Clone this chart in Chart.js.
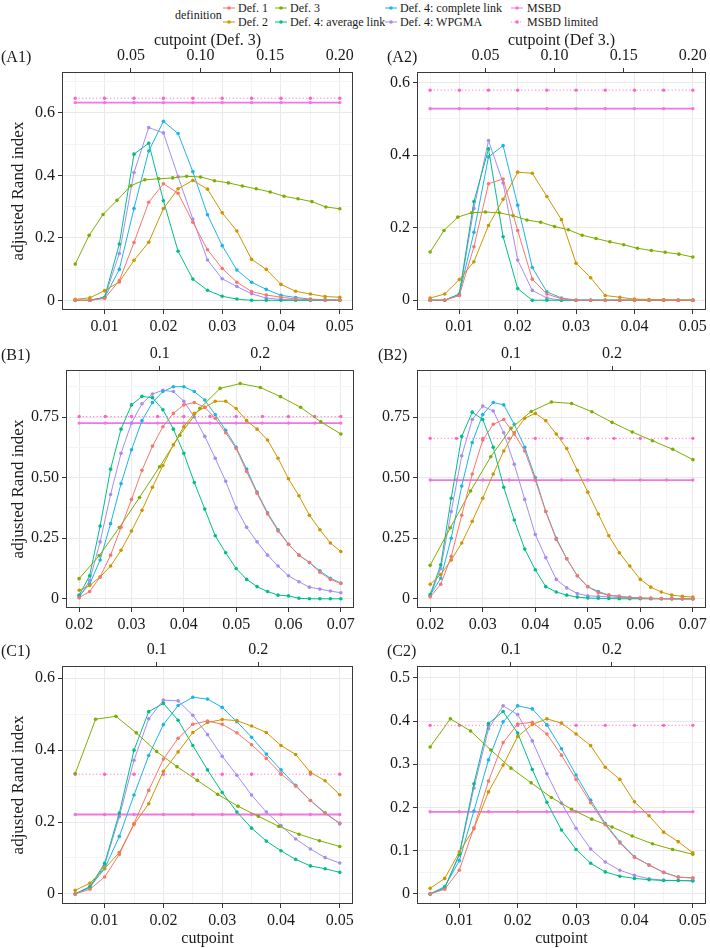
<!DOCTYPE html>
<html lang="en">
<head>
<meta charset="UTF-8">
<title>Adjusted Rand index by cutpoint</title>
<style>
  body { margin: 0; width: 710px; height: 948px; position: relative; background: #fff;
         font-family: "Liberation Serif", serif; color: #1a1a1a; overflow: hidden; }
  canvas { position: absolute; }
  .tag { position: absolute; font-size: 16px; line-height: 16px; }
  .leg { position: absolute; font-size: 12px; line-height: 14px; white-space: nowrap; }
  .key { position: absolute; }
</style>
<script src="https://cdn.jsdelivr.net/npm/chart.js"></script>
</head>
<body>
<script>
// x positions
const xA = [0.005, 0.0075, 0.01, 0.0125, 0.015, 0.0175, 0.02, 0.0225, 0.025, 0.0275, 0.03, 0.0325, 0.035, 0.0375, 0.04, 0.0425, 0.045, 0.0475, 0.05];
const xA3 = [0.01, 0.02, 0.03, 0.04, 0.05, 0.06, 0.07, 0.08, 0.09, 0.10, 0.11, 0.12, 0.13, 0.14, 0.15, 0.16, 0.17, 0.18, 0.19, 0.20];
const xAm = [0.005, 0.01, 0.015, 0.02, 0.025, 0.03, 0.035, 0.04, 0.045, 0.05];
const xB = [0.02, 0.022, 0.024, 0.026, 0.028, 0.03, 0.032, 0.034, 0.036, 0.038, 0.04, 0.042, 0.044, 0.046, 0.048, 0.05, 0.052, 0.054, 0.056, 0.058, 0.06, 0.062, 0.064, 0.066, 0.068, 0.07];
const xB3 = [0.02, 0.04, 0.06, 0.08, 0.10, 0.12, 0.14, 0.16, 0.18, 0.20, 0.22, 0.24, 0.26, 0.28];
const xBm = [0.02, 0.025, 0.03, 0.035, 0.04, 0.045, 0.05, 0.055, 0.06, 0.065, 0.07];
const xC = xA, xC3 = xB3, xCm = xAm;

// panel A1
const a1Def1 = [0, 0, 0.006, 0.063, 0.185, 0.314, 0.373, 0.343, 0.25, 0.162, 0.102, 0.058, 0.028, 0.017, 0.01, 0.004, 0.002, 0.001, 0];
const a1Def2 = [0.003, 0.008, 0.031, 0.059, 0.128, 0.186, 0.294, 0.357, 0.384, 0.356, 0.28, 0.222, 0.131, 0.099, 0.051, 0.029, 0.02, 0.012, 0.01];
const a1Def3 = [0.116, 0.208, 0.275, 0.32, 0.367, 0.386, 0.389, 0.392, 0.397, 0.395, 0.383, 0.376, 0.366, 0.357, 0.347, 0.333, 0.325, 0.316, 0.299, 0.293];
const a1Avg = [0, 0, 0.01, 0.18, 0.468, 0.503, 0.319, 0.157, 0.068, 0.032, 0.013, 0.004, 0, 0, 0, 0, 0, 0, 0];
const a1Complete = [0, 0, 0.009, 0.099, 0.294, 0.478, 0.573, 0.534, 0.412, 0.274, 0.175, 0.097, 0.058, 0.035, 0.016, 0.009, 0.004, 0.002, 0.001];
const a1Wpgma = [0, 0, 0.009, 0.15, 0.409, 0.553, 0.536, 0.396, 0.26, 0.129, 0.069, 0.044, 0.021, 0.007, 0.003, 0.001, 0, 0, 0];
const a1Msbd = [0.633, 0.633, 0.633, 0.633, 0.633, 0.633, 0.633, 0.633, 0.633, 0.633];
const a1MsbdLim = [0.647, 0.647, 0.647, 0.647, 0.647, 0.647, 0.647, 0.647, 0.647, 0.647];

// panel A2
const a2Def1 = [0, 0, 0.013, 0.147, 0.321, 0.334, 0.192, 0.058, 0.017, 0.004, 0, 0, 0, 0, 0, 0, 0, 0, 0];
const a2Def2 = [0.006, 0.017, 0.057, 0.106, 0.206, 0.278, 0.353, 0.35, 0.286, 0.222, 0.102, 0.062, 0.013, 0.008, 0.003, 0.002, 0.001, 0, 0];
const a2Def3 = [0.133, 0.192, 0.229, 0.241, 0.243, 0.241, 0.233, 0.221, 0.215, 0.203, 0.194, 0.179, 0.17, 0.161, 0.153, 0.143, 0.137, 0.132, 0.127, 0.119];
const a2Avg = [0, 0, 0.017, 0.272, 0.417, 0.175, 0.032, 0, 0, 0, 0, 0, 0, 0, 0, 0, 0, 0, 0];
const a2Complete = [0, 0, 0.016, 0.187, 0.395, 0.426, 0.262, 0.09, 0.023, 0.006, 0, 0, 0, 0, 0, 0, 0, 0, 0];
const a2Wpgma = [0, 0, 0.014, 0.253, 0.44, 0.323, 0.111, 0.027, 0.006, 0, 0, 0, 0, 0, 0, 0, 0, 0, 0];
const a2Msbd = [0.528, 0.528, 0.528, 0.528, 0.528, 0.528, 0.528, 0.528, 0.528, 0.528];
const a2MsbdLim = [0.579, 0.579, 0.579, 0.579, 0.579, 0.579, 0.579, 0.579, 0.579, 0.579];

// panel B1
const b1Def1 = [0.005, 0.03, 0.09, 0.18, 0.295, 0.41, 0.53, 0.63, 0.71, 0.765, 0.80, 0.81, 0.79, 0.745, 0.685, 0.62, 0.525, 0.435, 0.35, 0.28, 0.225, 0.18, 0.15, 0.11, 0.08, 0.063];
const b1Def2 = [0.035, 0.055, 0.09, 0.135, 0.2, 0.28, 0.365, 0.46, 0.55, 0.635, 0.71, 0.765, 0.79, 0.815, 0.815, 0.785, 0.735, 0.70, 0.655, 0.58, 0.495, 0.425, 0.345, 0.285, 0.23, 0.195];
const b1Def3 = [0.083, 0.178, 0.294, 0.418, 0.545, 0.675, 0.786, 0.868, 0.888, 0.872, 0.834, 0.79, 0.73, 0.68];
const b1Avg = [0.015, 0.095, 0.30, 0.535, 0.70, 0.80, 0.835, 0.83, 0.78, 0.70, 0.60, 0.48, 0.37, 0.26, 0.19, 0.125, 0.08, 0.05, 0.03, 0.015, 0.012, 0.002, 0, 0, 0, 0];
const b1Complete = [0.012, 0.06, 0.16, 0.31, 0.475, 0.615, 0.735, 0.81, 0.855, 0.875, 0.875, 0.855, 0.82, 0.76, 0.695, 0.625, 0.535, 0.44, 0.355, 0.285, 0.225, 0.18, 0.15, 0.115, 0.085, 0.065];
const b1Wpgma = [0.005, 0.075, 0.235, 0.43, 0.60, 0.725, 0.805, 0.845, 0.86, 0.855, 0.815, 0.75, 0.67, 0.58, 0.485, 0.375, 0.295, 0.235, 0.18, 0.135, 0.095, 0.07, 0.048, 0.04, 0.032, 0.025];
const b1Msbd = [0.725, 0.725, 0.725, 0.725, 0.725, 0.725, 0.725, 0.725, 0.725, 0.725, 0.725];
const b1MsbdLim = [0.752, 0.752, 0.752, 0.752, 0.752, 0.752, 0.752, 0.752, 0.752, 0.752, 0.752];

// panel B2
const b2Def1 = [0.008, 0.06, 0.175, 0.345, 0.515, 0.655, 0.72, 0.74, 0.68, 0.61, 0.49, 0.36, 0.245, 0.165, 0.095, 0.05, 0.025, 0.015, 0.01, 0.005, 0.003, 0.002, 0.001, 0, 0, 0];
const b2Def2 = [0.06, 0.10, 0.16, 0.23, 0.32, 0.415, 0.515, 0.61, 0.685, 0.745, 0.765, 0.735, 0.68, 0.62, 0.53, 0.44, 0.35, 0.26, 0.19, 0.135, 0.08, 0.048, 0.028, 0.015, 0.01, 0.007];
const b2Def3 = [0.138, 0.293, 0.445, 0.586, 0.703, 0.773, 0.812, 0.806, 0.772, 0.728, 0.688, 0.652, 0.617, 0.574];
const b2Avg = [0.018, 0.14, 0.415, 0.67, 0.77, 0.74, 0.625, 0.46, 0.325, 0.205, 0.12, 0.05, 0.028, 0.015, 0.007, 0.003, 0.002, 0.001, 0, 0, 0, 0, 0, 0, 0, 0];
const b2Complete = [0.015, 0.085, 0.25, 0.465, 0.645, 0.76, 0.81, 0.80, 0.72, 0.625, 0.50, 0.36, 0.25, 0.165, 0.095, 0.05, 0.03, 0.015, 0.01, 0.006, 0.003, 0.002, 0.001, 0, 0, 0];
const b2Wpgma = [0.012, 0.125, 0.36, 0.59, 0.74, 0.795, 0.775, 0.685, 0.555, 0.41, 0.265, 0.17, 0.08, 0.045, 0.022, 0.012, 0.01, 0.008, 0.005, 0.003, 0.002, 0.001, 0, 0, 0, 0];
const b2Msbd = [0.49, 0.49, 0.49, 0.49, 0.49, 0.49, 0.49, 0.49, 0.49, 0.49, 0.49];
const b2MsbdLim = [0.662, 0.662, 0.662, 0.662, 0.662, 0.662, 0.662, 0.662, 0.662, 0.662, 0.662];

// panel C1
const c1Def1 = [0, 0.013, 0.047, 0.11, 0.196, 0.288, 0.375, 0.433, 0.472, 0.481, 0.472, 0.448, 0.415, 0.377, 0.334, 0.3, 0.26, 0.224, 0.197];
const c1Def2 = [0.01, 0.03, 0.071, 0.115, 0.193, 0.251, 0.341, 0.395, 0.449, 0.477, 0.485, 0.482, 0.467, 0.449, 0.413, 0.388, 0.338, 0.315, 0.276];
const c1Def3 = [0.335, 0.486, 0.494, 0.448, 0.396, 0.354, 0.316, 0.277, 0.244, 0.216, 0.188, 0.166, 0.148, 0.132];
const c1Avg = [0, 0.02, 0.085, 0.225, 0.40, 0.507, 0.53, 0.483, 0.413, 0.345, 0.282, 0.228, 0.183, 0.147, 0.12, 0.096, 0.078, 0.07, 0.06];
const c1Complete = [0, 0.02, 0.07, 0.16, 0.275, 0.385, 0.471, 0.524, 0.547, 0.542, 0.519, 0.479, 0.436, 0.389, 0.345, 0.302, 0.26, 0.226, 0.195];
const c1Wpgma = [0, 0.017, 0.08, 0.215, 0.372, 0.487, 0.539, 0.537, 0.497, 0.443, 0.383, 0.33, 0.275, 0.228, 0.19, 0.153, 0.125, 0.101, 0.086];
const c1Msbd = [0.221, 0.221, 0.221, 0.221, 0.221, 0.221, 0.221, 0.221, 0.221, 0.221];
const c1MsbdLim = [0.333, 0.333, 0.333, 0.333, 0.333, 0.333, 0.333, 0.333, 0.333, 0.333];

// panel C2
const c2Def1 = [0, 0.011, 0.055, 0.153, 0.261, 0.35, 0.393, 0.397, 0.37, 0.321, 0.265, 0.211, 0.16, 0.118, 0.085, 0.067, 0.05, 0.039, 0.037];
const c2Def2 = [0.013, 0.036, 0.097, 0.151, 0.236, 0.298, 0.364, 0.392, 0.405, 0.395, 0.37, 0.343, 0.293, 0.265, 0.213, 0.181, 0.143, 0.121, 0.095];
const c2Def3 = [0.34, 0.405, 0.377, 0.333, 0.291, 0.257, 0.223, 0.196, 0.173, 0.155, 0.134, 0.116, 0.103, 0.092];
const c2Avg = [0, 0.014, 0.092, 0.255, 0.394, 0.422, 0.372, 0.288, 0.212, 0.148, 0.103, 0.071, 0.051, 0.041, 0.036, 0.033, 0.031, 0.031, 0.03];
const c2Complete = [0, 0.017, 0.077, 0.192, 0.31, 0.398, 0.435, 0.428, 0.391, 0.336, 0.275, 0.217, 0.163, 0.12, 0.086, 0.067, 0.05, 0.039, 0.037];
const c2Wpgma = [0, 0.014, 0.09, 0.245, 0.382, 0.435, 0.415, 0.354, 0.278, 0.21, 0.152, 0.104, 0.074, 0.055, 0.043, 0.035, 0.032, 0.031, 0.031];
const c2Msbd = [0.19, 0.19, 0.19, 0.19, 0.19, 0.19, 0.19, 0.19, 0.19, 0.19];
const c2MsbdLim = [0.39, 0.39, 0.39, 0.39, 0.39, 0.39, 0.39, 0.39, 0.39, 0.39];

const seriesNames = ['Def. 1', 'Def. 2', 'Def. 3', 'Def. 4: average link', 'Def. 4: complete link', 'Def. 4: WPGMA', 'MSBD', 'MSBD limited'];
const seriesColors = ['#F8766D', '#CD9600', '#7CAE00', '#00BE8A', '#1CB4E8', '#A68BF5', '#F276DF', '#FF61C9'];

Chart.defaults.font.family = '"Liberation Serif", serif';
Chart.defaults.font.size = 16;
Chart.defaults.color = '#1a1a1a';

function isMajor(v, step) {
    const r = v / step;
    return Math.abs(r - Math.round(r)) < 1e-6;
}
function fmt(v, dec) {
    return Math.abs(v) < 1e-9 ? '0' : v.toFixed(dec);
}
function pts(xs, ys) {
    return xs.map((x, i) => ({ x: x, y: ys[i] }));
}

// ggplot-like panel border
const framePlugin = {
    id: 'frame',
    afterDraw(chart) {
        const a = chart.chartArea, c = chart.ctx;
        c.save();
        c.strokeStyle = '#3a3a3a';
        c.lineWidth = 1;
        c.strokeRect(Math.round(a.left) + 0.5, Math.round(a.top) + 0.5,
                     Math.round(a.right - a.left) - 1, Math.round(a.bottom - a.top) - 1);
        c.restore();
    }
};

function gridFor(major) {
    return {
        tickLength: 4,
        lineWidth: 1,
        color: c => (c.tick && isMajor(c.tick.value, major)) ? '#e9e9e9' : '#f4f4f4',
        tickColor: c => (c.tick && isMajor(c.tick.value, major)) ? '#333' : 'rgba(0,0,0,0)'
    };
}

function makePanel(p) {
    const cv = document.createElement('canvas');
    cv.width = p.w;
    cv.height = p.h;
    cv.style.left = p.left + 'px';
    cv.style.top = p.top + 'px';
    document.body.appendChild(cv);

    const xsFor = [p.xs, p.xs, p.xs3, p.xs, p.xs, p.xs, p.xsm, p.xsm];
    const datasets = p.ys.map((vals, i) => ({
        label: seriesNames[i],
        data: pts(xsFor[i], vals),
        xAxisID: i === 2 ? 'x2' : 'x',
        yAxisID: 'y',
        borderColor: seriesColors[i],
        backgroundColor: seriesColors[i],
        pointBackgroundColor: seriesColors[i],
        borderWidth: i === 6 ? 1.8 : 1,
        borderDash: i === 7 ? [1, 2.5] : [],
        pointRadius: i >= 6 ? 1.7 : 1.8,
        pointBorderWidth: 0,
        pointHoverRadius: 0,
        tension: 0
    }));

    new Chart(cv, {
        type: 'line',
        data: { datasets: datasets },
        plugins: [framePlugin],
        options: {
            responsive: false,
            animation: false,
            events: [],
            layout: { padding: { left: 0, top: 0, bottom: 0, right: p.padR } },
            plugins: { legend: { display: false }, tooltip: { enabled: false } },
            scales: {
                x: {
                    type: 'linear', position: 'bottom', min: p.xr[0], max: p.xr[1],
                    ticks: {
                        stepSize: p.xMinor, includeBounds: false, autoSkip: false, maxRotation: 0, padding: 3,
                        callback: v => isMajor(v, p.xMajor) ? v.toFixed(2) : ''
                    },
                    grid: gridFor(p.xMajor),
                    border: { display: false },
                    title: { display: !!p.xTitle, text: p.xTitle || '', font: { size: 16 }, padding: { top: 0, bottom: 0 } },
                    afterFit: sc => { sc.height = p.bottomH; }
                },
                x2: {
                    type: 'linear', position: 'top', min: p.tr[0], max: p.tr[1],
                    ticks: {
                        stepSize: p.tStep, includeBounds: false, autoSkip: false, maxRotation: 0, padding: 3,
                        callback: v => v.toFixed(p.tDec)
                    },
                    grid: { drawOnChartArea: false, tickLength: 4, tickColor: '#333' },
                    border: { display: false },
                    title: { display: !!p.tTitle, text: p.tTitle || '', font: { size: 16 }, padding: { top: 1, bottom: 0 } },
                    afterFit: sc => { sc.height = p.topH; }
                },
                y: {
                    type: 'linear', position: 'left', min: p.yr[0], max: p.yr[1],
                    ticks: {
                        stepSize: p.yMinor, includeBounds: false, autoSkip: false, padding: 3,
                        callback: v => isMajor(v, p.yMajor) ? fmt(v, p.yDec) : ''
                    },
                    grid: gridFor(p.yMajor),
                    border: { display: false },
                    title: { display: !!p.yTitle, text: p.yTitle || '', font: { size: 17 }, padding: { top: 8, bottom: 0 } },
                    afterFit: sc => { sc.width = p.yW; }
                }
            }
        }
    });
}

const rowA = { top: 30, h: 310, topH: 42, bottomH: 30 };
const rowB = { top: 340, h: 296, topH: 30, bottomH: 28 };
const rowC = { top: 636, h: 312, topH: 30, bottomH: 44 };

// A1
makePanel({ left: 0, w: 360, top: rowA.top, h: rowA.h, topH: rowA.topH, bottomH: rowA.bottomH, yW: 62, padR: 7,
    xs: xA, xs3: xA3, xsm: xAm,
    ys: [a1Def1, a1Def2, a1Def3, a1Avg, a1Complete, a1Wpgma, a1Msbd, a1MsbdLim],
    xr: [0.00275, 0.05225], xMinor: 0.005, xMajor: 0.01,
    tr: [0.0005, 0.2095], tStep: 0.05, tDec: 2, tTitle: 'cutpoint (Def. 3)',
    yr: [-0.031, 0.731], yMinor: 0.1, yMajor: 0.2, yDec: 1, yTitle: 'adjusted Rand index' });
// A2
makePanel({ left: 360, w: 350, top: rowA.top, h: rowA.h, topH: rowA.topH, bottomH: rowA.bottomH, yW: 57, padR: 2,
    xs: xA, xs3: xA3, xsm: xAm,
    ys: [a2Def1, a2Def2, a2Def3, a2Avg, a2Complete, a2Wpgma, a2Msbd, a2MsbdLim],
    xr: [0.00275, 0.05225], xMinor: 0.005, xMajor: 0.01,
    tr: [0.0005, 0.2095], tStep: 0.05, tDec: 2, tTitle: 'cutpoint (Def 3.)',
    yr: [-0.027, 0.629], yMinor: 0.1, yMajor: 0.2, yDec: 1 });
// B1
makePanel({ left: 0, w: 360, top: rowB.top, h: rowB.h, topH: rowB.topH, bottomH: rowB.bottomH, yW: 66, padR: 6,
    xs: xB, xs3: xB3, xsm: xBm,
    ys: [b1Def1, b1Def2, b1Def3, b1Avg, b1Complete, b1Wpgma, b1Msbd, b1MsbdLim],
    xr: [0.01748, 0.07252], xMinor: 0.005, xMajor: 0.01,
    tr: [0.007, 0.293], tStep: 0.1, tDec: 1,
    yr: [-0.038, 0.944], yMinor: 0.125, yMajor: 0.25, yDec: 2, yTitle: 'adjusted Rand index' });
// B2
makePanel({ left: 360, w: 350, top: rowB.top, h: rowB.h, topH: rowB.topH, bottomH: rowB.bottomH, yW: 57, padR: 3,
    xs: xB, xs3: xB3, xsm: xBm,
    ys: [b2Def1, b2Def2, b2Def3, b2Avg, b2Complete, b2Wpgma, b2Msbd, b2MsbdLim],
    xr: [0.01748, 0.07252], xMinor: 0.005, xMajor: 0.01,
    tr: [0.007, 0.293], tStep: 0.1, tDec: 1,
    yr: [-0.038, 0.944], yMinor: 0.125, yMajor: 0.25, yDec: 2 });
// C1
makePanel({ left: 0, w: 360, top: rowC.top, h: rowC.h, topH: rowC.topH, bottomH: rowC.bottomH, yW: 62, padR: 7,
    xs: xC, xs3: xC3, xsm: xCm,
    ys: [c1Def1, c1Def2, c1Def3, c1Avg, c1Complete, c1Wpgma, c1Msbd, c1MsbdLim],
    xr: [0.00275, 0.05225], xMinor: 0.005, xMajor: 0.01, xTitle: 'cutpoint',
    tr: [0.007, 0.293], tStep: 0.1, tDec: 1,
    yr: [-0.028, 0.634], yMinor: 0.1, yMajor: 0.2, yDec: 1, yTitle: 'adjusted Rand index' });
// C2
makePanel({ left: 360, w: 350, top: rowC.top, h: rowC.h, topH: rowC.topH, bottomH: rowC.bottomH, yW: 57, padR: 2,
    xs: xC, xs3: xC3, xsm: xCm,
    ys: [c2Def1, c2Def2, c2Def3, c2Avg, c2Complete, c2Wpgma, c2Msbd, c2MsbdLim],
    xr: [0.00275, 0.05225], xMinor: 0.005, xMajor: 0.01, xTitle: 'cutpoint',
    tr: [0.007, 0.293], tStep: 0.1, tDec: 1,
    yr: [-0.0232, 0.5272], yMinor: 0.05, yMajor: 0.1, yDec: 1 });

// panel tags
[['(A1)', 1, 57], ['(A2)', 387, 57], ['(B1)', 1, 355], ['(B2)', 378, 355], ['(C1)', 1, 651], ['(C2)', 387, 651]]
    .forEach(t => {
        const d = document.createElement('div');
        d.className = 'tag';
        d.textContent = t[0];
        d.style.left = t[1] + 'px';
        d.style.top = (t[2] - 8) + 'px';
        document.body.appendChild(d);
    });

// legend
function addText(txt, x, yc) {
    const d = document.createElement('div');
    d.className = 'leg';
    d.textContent = txt;
    d.style.left = x + 'px';
    d.style.top = (yc - 7) + 'px';
    document.body.appendChild(d);
}
function addKey(i, cx, cy) {
    const ns = 'http://www.w3.org/2000/svg';
    const svg = document.createElementNS(ns, 'svg');
    svg.setAttribute('class', 'key');
    svg.setAttribute('width', 14);
    svg.setAttribute('height', 8);
    svg.style.left = (cx - 7) + 'px';
    svg.style.top = (cy - 4) + 'px';
    const ln = document.createElementNS(ns, 'line');
    ln.setAttribute('x1', 1); ln.setAttribute('x2', 13);
    ln.setAttribute('y1', 4); ln.setAttribute('y2', 4);
    ln.setAttribute('stroke', seriesColors[i]);
    ln.setAttribute('stroke-width', i === 7 ? 0.8 : 1);
    if (i === 7) ln.setAttribute('stroke-dasharray', '1 2');
    svg.appendChild(ln);
    const c = document.createElementNS(ns, 'circle');
    c.setAttribute('cx', 7); c.setAttribute('cy', 4); c.setAttribute('r', 1.8);
    c.setAttribute('fill', seriesColors[i]);
    svg.appendChild(c);
    document.body.appendChild(svg);
}
addText('definition', 175, 15);
const legCols = [[229, 238], [281, 290], [391, 400], [517, 527]];
const legRows = [8, 22];
const legOrder = [[0, 1], [2, 3], [4, 5], [6, 7]];
legOrder.forEach((pair, ci) => {
    pair.forEach((si, ri) => {
        addKey(si, legCols[ci][0], legRows[ri]);
        addText(seriesNames[si], legCols[ci][1], legRows[ri]);
    });
});
</script>
</body>
</html>
